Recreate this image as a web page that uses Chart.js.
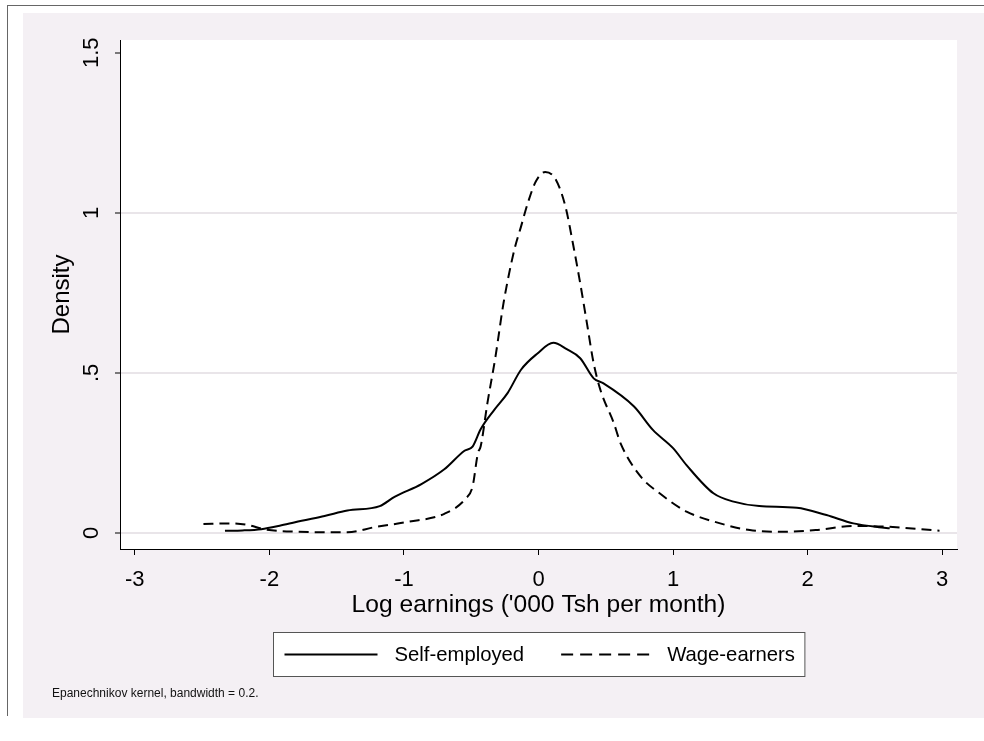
<!DOCTYPE html>
<html>
<head>
<meta charset="utf-8">
<script src="https://cdn.jsdelivr.net/npm/chart.js@4/dist/chart.umd.min.js"></script>
<style>
	body { margin: 0; background: #fff; width: 984px; height: 741px; overflow: hidden; position: relative; }
	#moldura { position: absolute; left: 7px; top: 5px; width: 977px; height: 710px; border-top: 1px solid #666; border-left: 1px solid #666; }
	#grafico { position: absolute; left: 23px; top: 13px; width: 961px; height: 705px; background: #f4f0f4; }
	canvas { display: block; }
</style>
</head>
<body>
<div id="moldura"></div>
<div id="grafico"><canvas id="densidade" width="961" height="705"></canvas></div>
<script>
// valores
var xTicks = [-3, -2, -1, 0, 1, 2, 3];
var xLabels = ["-3", "-2", "-1", "0", "1", "2", "3"];
var yTicks = [0, 0.5, 1, 1.5];
var yLabels = ["0", ".5", "1", "1.5"];

var serieNomes = ["Self-employed", "Wage-earners"];

var autonomoX = [-2.33, -2.2, -2.06, -1.91, -1.76, -1.59, -1.42, -1.18, -1.07, -0.87, -0.7, -0.55, -0.49, -0.43, -0.33, -0.23, -0.13, -0.01, 0.11, 0.21, 0.31, 0.41, 0.48, 0.71, 0.85, 1.0, 1.1, 1.3, 1.45, 1.64, 1.92, 2.14, 2.34, 2.53, 2.61];
var autonomoY = [0.007, 0.008, 0.012, 0.024, 0.038, 0.053, 0.07, 0.084, 0.113, 0.153, 0.199, 0.257, 0.27, 0.324, 0.384, 0.437, 0.51, 0.56, 0.594, 0.574, 0.546, 0.483, 0.468, 0.395, 0.322, 0.265, 0.212, 0.124, 0.098, 0.084, 0.079, 0.056, 0.03, 0.018, 0.015];

var assalariadoX = [-2.49, -2.3, -2.16, -2.03, -1.79, -1.42, -1.22, -0.97, -0.7, -0.54, -0.49, -0.45, -0.43, -0.38, -0.32, -0.26, -0.18, -0.13, -0.08, -0.02, 0.05, 0.13, 0.2, 0.26, 0.31, 0.36, 0.41, 0.46, 0.56, 0.61, 0.76, 0.9, 1.1, 1.35, 1.57, 1.82, 2.06, 2.34, 2.58, 2.98];
var assalariadoY = [0.028, 0.03, 0.025, 0.011, 0.004, 0.002, 0.018, 0.035, 0.06, 0.108, 0.145, 0.25, 0.27, 0.405, 0.55, 0.718, 0.884, 0.957, 1.03, 1.098, 1.128, 1.103, 1.02, 0.895, 0.78, 0.655, 0.53, 0.447, 0.343, 0.28, 0.176, 0.124, 0.067, 0.03, 0.009, 0.004, 0.009, 0.022, 0.02, 0.007];

var nota = "Epanechnikov kernel, bandwidth = 0.2.";

function pontos(xs, ys) {
	return xs.map(function (x, i) {
		return { x: x, y: ys[i] };
	});
}

var fonte = "'Liberation Sans', Arial, sans-serif";

// fundo branco da área do gráfico
var fundoArea = {
	id: "fundoArea",
	beforeDraw: function (chart) {
		var a = chart.chartArea;
		chart.ctx.save();
		chart.ctx.fillStyle = "#fff";
		chart.ctx.fillRect(a.left, a.top, a.right - a.left, a.bottom - a.top);
		chart.ctx.restore();
	},
};

// rótulos verticais do eixo y, legenda com moldura e nota
var extras = {
	id: "extras",
	afterDraw: function (chart) {
		var ctx = chart.ctx;
		var y = chart.scales.y;
		ctx.save();
		ctx.fillStyle = "#000";
		ctx.font = "22px " + fonte;
		ctx.textAlign = "center";
		ctx.textBaseline = "middle";
		yTicks.forEach(function (v, i) {
			ctx.save();
			ctx.translate(y.right - 28, y.getPixelForValue(v));
			ctx.rotate(-Math.PI / 2);
			ctx.fillText(yLabels[i], 0, 0);
			ctx.restore();
		});

		// legenda
		ctx.font = "20.3px " + fonte;
		var a = chart.chartArea;
		var w1 = ctx.measureText(serieNomes[0]).width;
		var w2 = ctx.measureText(serieNomes[1]).width;
		var total = 11 + 93 + 17 + w1 + 37 + 94 + 12 + w2 + 10;
		var esq = Math.round((a.left + a.right) / 2 - total / 2) + 0.5;
		var topo = chart.scales.x.bottom + 13.5;
		var alt = 44;
		ctx.fillStyle = "#fff";
		ctx.fillRect(esq, topo, total, alt);
		ctx.strokeStyle = "#555";
		ctx.lineWidth = 1;
		ctx.strokeRect(esq, topo, total, alt);
		var meio = topo + alt / 2;
		var ds = chart.data.datasets;
		var px = esq + 11;
		ctx.strokeStyle = "#000";
		ctx.lineWidth = 2;
		ctx.setLineDash(ds[0].borderDash || []);
		ctx.beginPath();
		ctx.moveTo(px, meio);
		ctx.lineTo(px + 93, meio);
		ctx.stroke();
		px += 93 + 17;
		ctx.fillStyle = "#000";
		ctx.textAlign = "left";
		ctx.fillText(ds[0].label, px, meio + 1);
		px += w1 + 37;
		ctx.setLineDash([12, 7]);
		ctx.beginPath();
		ctx.moveTo(px, meio);
		ctx.lineTo(px + 94, meio);
		ctx.stroke();
		ctx.setLineDash([]);
		px += 94 + 12;
		ctx.fillText(ds[1].label, px, meio + 1);

		// nota
		ctx.font = "12px " + fonte;
		ctx.fillStyle = "#111";
		ctx.fillText(nota, 29, topo + alt + 17);
		ctx.restore();
	},
};

var config = {
	type: "line",
	data: {
		datasets: [
			{
				label: serieNomes[0],
				data: pontos(autonomoX, autonomoY),
				borderColor: "#000",
				borderWidth: 2,
				pointRadius: 0,
				cubicInterpolationMode: "monotone",
				fill: false,
			},
			{
				label: serieNomes[1],
				data: pontos(assalariadoX, assalariadoY),
				borderColor: "#000",
				borderWidth: 2,
				borderDash: [10, 6],
				pointRadius: 0,
				cubicInterpolationMode: "monotone",
				fill: false,
			},
		],
	},
	options: {
		responsive: false,
		animation: false,
		devicePixelRatio: 1,
		layout: {
			padding: { top: 27, bottom: 99, left: 0, right: 27 },
		},
		scales: {
			x: {
				type: "linear",
				min: -3.11,
				max: 3.11,
				afterBuildTicks: function (scale) {
					scale.ticks = xTicks.map(function (v) {
						return { value: v };
					});
				},
				afterFit: function (scale) {
					scale.height = 70;
				},
				grid: {
					drawOnChartArea: false,
					tickLength: 6,
					tickColor: "#000",
					tickWidth: 1,
				},
				border: { color: "#000", width: 1 },
				ticks: {
					autoSkip: false,
					maxRotation: 0,
					padding: 12,
					color: "#000",
					font: { family: fonte, size: 22, lineHeight: 1.2 },
					callback: function (v) {
						var i = xTicks.indexOf(v);
						return i >= 0 ? xLabels[i] : "";
					},
				},
				title: {
					display: true,
					text: "Log earnings ('000 Tsh per month)",
					color: "#000",
					font: { family: fonte, size: 24.6, lineHeight: 1 },
					padding: { top: 0, bottom: 1 },
				},
			},
			y: {
				type: "linear",
				min: -0.05,
				max: 1.54,
				afterBuildTicks: function (scale) {
					scale.ticks = yTicks.map(function (v) {
						return { value: v };
					});
				},
				afterFit: function (scale) {
					scale.width = 97;
				},
				grid: {
					color: function (c) {
						return c.tick && c.tick.value === 1.5 ? "rgba(0,0,0,0)" : "#e9e5e9";
					},
					lineWidth: 2,
					tickLength: 5,
					tickColor: "#000",
					tickWidth: 1,
				},
				border: { color: "#000", width: 1 },
				ticks: { display: false },
				title: {
					display: true,
					text: "Density",
					color: "#000",
					font: { family: fonte, size: 24, lineHeight: 1 },
					padding: { top: 27, bottom: 0 },
				},
			},
		},
		plugins: {
			legend: { display: false },
			tooltip: { enabled: false },
		},
	},
	plugins: [fundoArea, extras],
};

var meuGrafico = new Chart(document.getElementById("densidade"), config);
</script>
</body>
</html>
